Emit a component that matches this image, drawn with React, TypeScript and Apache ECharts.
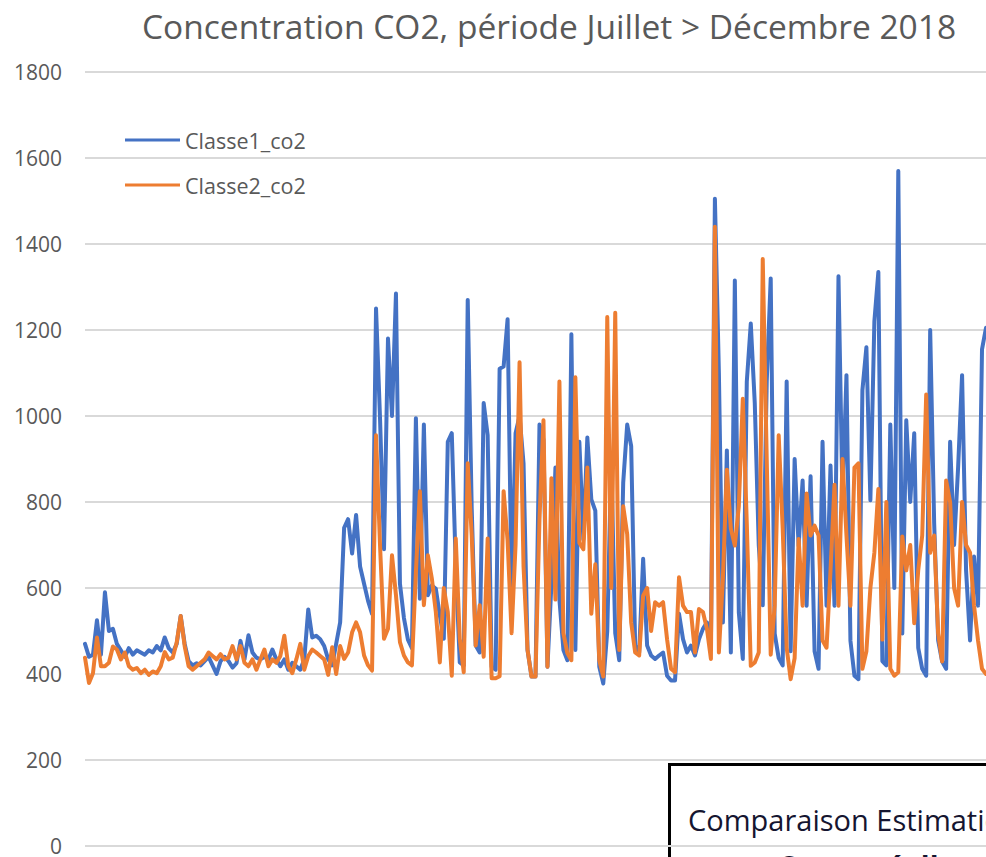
import React, { useEffect, useRef } from "react";
import * as echarts from "echarts";

const TITLE = "Concentration CO2, période Juillet > Décembre 2018";
const SERIES_NAMES = ["Classe1_co2", "Classe2_co2"];
const Y_TICKS = [0, 200, 400, 600, 800, 1000, 1200, 1400, 1600, 1800];

const classe1: number[] = [
  470, 440, 445, 525, 445, 590, 500, 505, 470, 455,
  440, 460, 445, 455, 450, 445, 455, 450, 465, 455,
  485, 460, 450, 470, 535, 470, 430, 420, 425, 420,
  430, 440, 420, 400, 430, 440, 430, 415, 425, 477,
  434, 490, 450, 438, 434, 440, 434, 457, 434, 418,
  434, 410, 426, 418, 410, 434, 550, 485, 489, 481,
  465, 434, 420, 470, 520, 740, 760, 680, 770, 650,
  610, 570, 540, 1250, 995, 690, 1180, 1000, 1285, 610,
  530, 480, 460, 995, 575, 980, 583, 606, 598, 536,
  482, 940, 960, 650, 427, 420, 1270, 785, 466, 450,
  1030, 955, 417, 410, 1110, 1115, 1225, 600, 960, 1000,
  890, 456, 394, 394, 980, 945, 417, 610, 880, 573,
  456, 432, 1190, 456, 940, 713, 950, 806, 780, 417,
  378, 500, 895, 495, 432, 845, 980, 930, 466, 450,
  668, 466, 443, 435, 443, 450, 396, 385, 385, 540,
  481, 450, 466, 443, 481, 505, 520, 466, 1505, 1100,
  520, 920, 450, 1315, 543, 435, 1080, 1215, 1030, 700,
  560, 1080, 1320, 494, 437, 420, 1080, 453, 900, 698,
  850, 559, 860, 453, 412, 940, 559, 885, 559, 1325,
  804, 1095, 477, 396, 388, 1060, 1160, 804, 1220, 1335,
  430, 420, 980, 600, 1570, 494, 990, 800, 960, 461,
  412, 396, 1200, 750, 478, 429, 412, 940, 700, 880,
  1095, 641, 478, 673, 559, 1155, 1205,
];

const classe2: number[] = [
  438, 379, 402, 485, 418, 418, 426, 464, 457, 434,
  450, 418, 410, 414, 402, 410, 398, 406, 402, 418,
  451, 434, 438, 473, 535, 465, 418, 410, 418, 426,
  434, 450, 442, 434, 446, 434, 438, 465, 434, 465,
  426, 418, 434, 410, 434, 457, 418, 434, 426, 442,
  489, 418, 402, 434, 470, 410, 442, 457, 450, 442,
  434, 398, 462, 400, 465, 435, 450, 497, 520, 497,
  443, 420, 408, 955, 700, 482, 505, 676, 583, 474,
  443, 427, 420, 637, 825, 560, 676, 622, 544, 427,
  600, 544, 396, 715, 482, 404, 890, 723, 466, 560,
  440, 715, 390, 390, 395, 825, 710, 495, 700, 1125,
  650, 456, 394, 394, 760, 990, 417, 855, 573, 1080,
  495, 448, 432, 1090, 705, 690, 880, 540, 655, 432,
  394, 1230, 600, 1240, 456, 790, 725, 520, 450, 443,
  582, 600, 500, 567, 559, 567, 481, 412, 404, 625,
  559, 544, 544, 450, 551, 544, 505, 435, 1440, 450,
  621, 875, 738, 699, 790, 1040, 750, 419, 427, 450,
  1365, 900, 445, 559, 955, 739, 461, 388, 437, 714,
  559, 820, 722, 745, 722, 478, 461, 641, 840, 559,
  900, 722, 559, 880, 890, 412, 453, 600, 682, 830,
  480, 800, 412, 396, 404, 720, 641, 700, 518, 641,
  722, 1050, 682, 722, 494, 429, 850, 800, 600, 559,
  800, 700, 682, 559, 478, 412, 400,
];

const categories = classe1.map((_, i) => String(i));

const FONT = "'Open Sans', 'Liberation Sans', sans-serif";

export default function App() {
  const ref = useRef<HTMLDivElement>(null);
  useEffect(() => {
    if (!ref.current) return;
    const chart = echarts.init(ref.current, undefined, { renderer: "svg" });
    chart.setOption({
      animation: false,
      backgroundColor: "#ffffff",
      title: {
        text: TITLE,
        left: 137,
        top: 0,
        textStyle: {
          fontFamily: FONT,
          fontSize: 33.5,
          fontWeight: "normal",
          color: "#595959",
          lineHeight: 42,
        },
      },
      legend: {
        orient: "vertical",
        left: 120,
        top: 123,
        itemWidth: 55,
        itemHeight: 3,
        itemGap: 21,
        icon: "rect",
        data: SERIES_NAMES,
        textStyle: {
          fontFamily: FONT,
          fontSize: 21.5,
          color: "#595959",
          lineHeight: 24,
        },
      },
      grid: { left: 85, right: -3, top: 72, bottom: 11, containLabel: false },
      xAxis: {
        type: "category",
        data: categories,
        boundaryGap: false,
        axisLine: { show: false },
        axisTick: { show: false },
        axisLabel: { show: false },
        splitLine: { show: false },
      },
      yAxis: {
        type: "value",
        min: Y_TICKS[0],
        max: Y_TICKS[Y_TICKS.length - 1],
        interval: 200,
        axisLine: { show: false },
        axisTick: { show: false },
        axisLabel: {
          margin: 23,
          fontFamily: FONT,
          fontSize: 21,
          color: "#595959",
          formatter: (v: number) => String(v),
        },
        splitLine: { lineStyle: { color: "#d9d9d9", width: 2 } },
      },
      series: [
        {
          name: SERIES_NAMES[0],
          type: "line",
          data: classe1,
          showSymbol: false,
          color: "#4472C4",
          lineStyle: { width: 4, color: "#4472C4", join: "round", cap: "round" },
        },
        {
          name: SERIES_NAMES[1],
          type: "line",
          data: classe2,
          showSymbol: false,
          color: "#ED7D31",
          lineStyle: { width: 4, color: "#ED7D31", join: "round", cap: "round" },
        },
      ],
      graphic: [
        {
          type: "group",
          z: 100,
          children: [
            {
              type: "rect",
              shape: { x: 669.5, y: 764.5, width: 400, height: 200 },
              style: { fill: "#ffffff", stroke: "#000000", lineWidth: 3 },
            },
            {
              type: "text",
              x: 688,
              y: 819,
              style: {
                text: "Comparaison Estimation",
                fontFamily: FONT,
                fontSize: 29,
                fill: "#151530",
                verticalAlign: "middle",
              },
            },
            {
              type: "text",
              x: 778,
              y: 851,
              style: {
                text: "Conso réelle",
                fontFamily: FONT,
                fontSize: 29,
                fontWeight: "bold",
                fill: "#151530",
                verticalAlign: "top",
              },
            },
          ],
        },
      ],
    });
    return () => chart.dispose();
  }, []);
  return (
    <div
      ref={ref}
      style={{ position: "fixed", left: 0, top: 0, width: 986, height: 857, overflow: "hidden" }}
    />
  );
}
